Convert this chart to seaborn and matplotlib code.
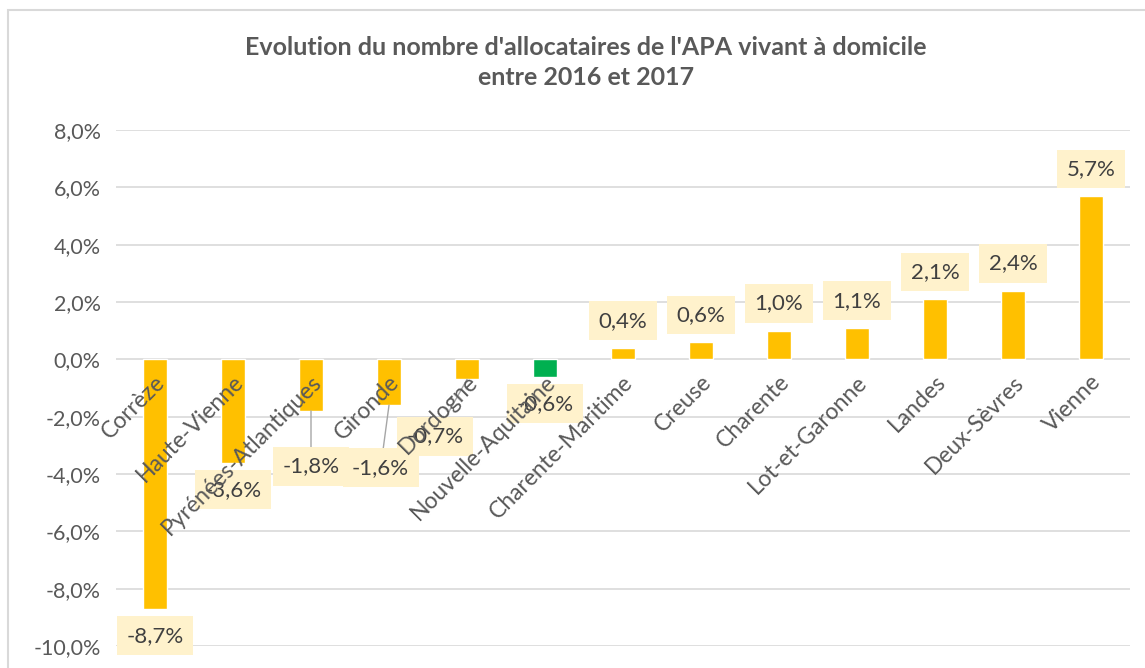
import matplotlib
matplotlib.use("Agg")
import matplotlib.pyplot as plt
import seaborn as sns
from matplotlib.patches import Rectangle
from matplotlib.ticker import FuncFormatter

# Data
departements = ["Corrèze", "Haute-Vienne", "Pyrénées-Atlantiques", "Gironde", "Dordogne",
                "Nouvelle-Aquitaine", "Charente-Maritime", "Creuse", "Charente",
                "Lot-et-Garonne", "Landes", "Deux-Sèvres", "Vienne"]
evolution = [-8.7, -3.6, -1.8, -1.6, -0.7, -0.6, 0.4, 0.6, 1.0, 1.1, 2.1, 2.4, 5.7]
region = "Nouvelle-Aquitaine"

yticks = [8, 6, 4, 2, 0, -2, -4, -6, -8, -10]

# label offsets (points) for the data labels that were moved by hand
moved_labels = {"Pyrénées-Atlantiques": (0, -40), "Gironde": (-6, -45), "Dordogne": (-23, -41)}

gold = "#FFC000"
green = "#00B050"
grey_txt = "#595959"

sns.set_theme(style="white")
plt.rcParams["font.family"] = ["Lato", "DejaVu Sans"]

fig = plt.figure(figsize=(11.45, 6.68), dpi=100)
ax = fig.add_axes([116 / 1145, 22 / 668, (1130 - 116) / 1145, (646 - 130) / 668])

palette = {d: (green if d == region else gold) for d in departements}
sns.barplot(x=departements, y=evolution, hue=departements, palette=palette,
            legend=False, width=0.31, saturation=1, ax=ax, zorder=2)

ax.set_ylim(-10, 8)
ax.set_xlim(-0.5, len(departements) - 0.5)
ax.set_yticks(yticks)
ax.yaxis.set_major_formatter(FuncFormatter(lambda v, p: f"{v:.1f}%".replace(".", ",")))
ax.tick_params(axis="y", labelsize=15.5, colors=grey_txt, length=0, pad=11)
ax.grid(axis="y", color="#D9D9D9", lw=1.2, zorder=0)
ax.set_axisbelow(True)
for s in ax.spines.values():
    s.set_visible(False)

# category labels sit on the zero line, rotated, drawn over the data labels
ax.set_xticks([])
ax.set_xlabel("")
for i, d in enumerate(departements):
    ax.annotate(d, xy=(i, 0), xytext=(5, -14), textcoords="offset points",
                rotation=45, rotation_mode="anchor", ha="right", va="center",
                fontsize=16.5, color=grey_txt, zorder=6)

# data labels
for i, (d, v) in enumerate(zip(departements, evolution)):
    txt = f"{v:.1f}%".replace(".", ",")
    off = moved_labels.get(d, (0, 19.5 if v > 0 else -19.5))
    arrow = dict(arrowstyle="-", color="#A6A6A6", lw=1, shrinkA=0, shrinkB=0) if d in moved_labels else None
    ax.annotate(txt, xy=(i, v), xytext=off, textcoords="offset points",
                ha="center", va="center", fontsize=16, color="#404040", zorder=4,
                bbox=dict(boxstyle="square,pad=0.42", fc="#FFF2CC", ec="none"),
                arrowprops=arrow)

fig.text(0.512, 0.906, "Evolution du nombre d'allocataires de l'APA vivant à domicile\nentre 2016 et 2017",
         ha="center", va="center", fontsize=18, fontweight="bold", color=grey_txt, linespacing=1.35)

fig.patches.append(Rectangle((8 / 1145, -0.1), 1.2, 0.1 + (668 - 10) / 668,
                             transform=fig.transFigure, fill=False, ec="#D9D9D9", lw=1.5))

fig.savefig("out.png", dpi=100)
